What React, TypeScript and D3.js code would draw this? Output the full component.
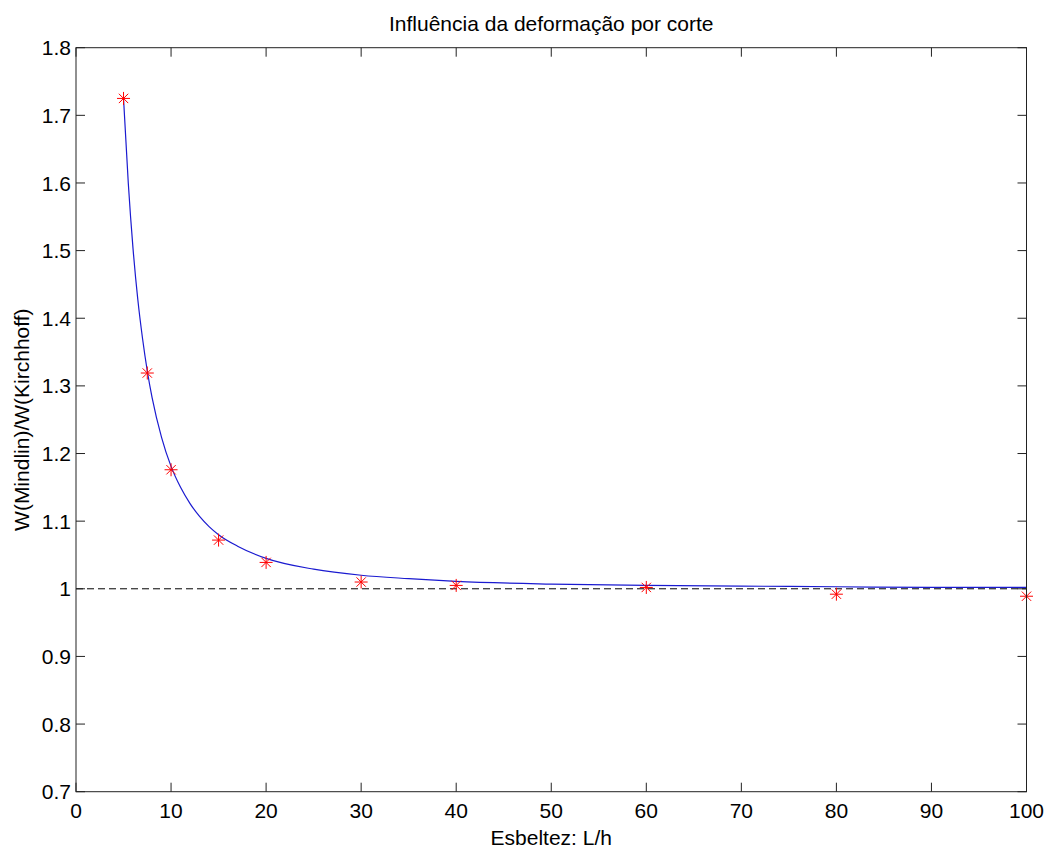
import React from "react";
import * as d3 from "d3";

const W = 1047;
const H = 848;

const xTicks = [0, 10, 20, 30, 40, 50, 60, 70, 80, 90, 100];
const yTicks = [0.7, 0.8, 0.9, 1.0, 1.1, 1.2, 1.3, 1.4, 1.5, 1.6, 1.7, 1.8];

// Blue curve
const curveX = [5, 5.5, 6, 6.5, 7, 7.5, 8, 9, 10, 11, 12, 13, 14, 15, 17, 20, 25, 30, 35, 40, 50, 60, 70, 80, 90, 100];
const curveY = [1.725, 1.6, 1.503, 1.428, 1.37, 1.322, 1.283, 1.224, 1.181, 1.15, 1.126, 1.107, 1.092, 1.08, 1.063, 1.045, 1.029, 1.02, 1.015, 1.011, 1.007, 1.005, 1.004, 1.003, 1.002, 1.002];

// Red asterisk points
const pointX = [5, 7.5, 10, 15, 20, 30, 40, 60, 80, 100];
const pointY = [1.725, 1.319, 1.176, 1.072, 1.039, 1.01, 1.005, 1.002, 0.992, 0.989];

const refY = 1.0;

const title = "Influência da deformação por corte";
const xLabel = "Esbeltez: L/h";
const yLabel = "W(Mindlin)/W(Kirchhoff)";

const left = 76;
const right = 1026.5;
const top = 47.7;
const bottom = 791.7;

export default function App() {
  const x = d3.scaleLinear().domain([0, 100]).range([left, right]);
  const y = d3.scaleLinear().domain([0.7, 1.8]).range([bottom, top]);
  const line = d3
    .line<number>()
    .x((_, i) => x(curveX[i]))
    .y((d) => y(d))
    .curve(d3.curveMonotoneX);
  const font = "'Liberation Sans', Arial, sans-serif";
  const fs = 21;
  const tickLen = 9;
  const fmt = (v: number) => String(+v.toFixed(1));
  const r = 6.5;
  const rd = r * 0.72;

  return (
    <svg
      width={W}
      height={H}
      style={{ position: "absolute", left: 0, top: 0, background: "#fff" }}
      fontFamily={font}
    >
      <rect x={0} y={0} width={W} height={H} fill="#fff" />
      {/* ref dashed line */}
      <line
        x1={x(0)}
        x2={x(100)}
        y1={y(refY)}
        y2={y(refY)}
        stroke="#000"
        strokeWidth={1}
        strokeDasharray="7,4"
      />
      {/* curve */}
      <path d={line(curveY) || ""} fill="none" stroke="#1a1ad0" strokeWidth={1.2} />
      {/* points */}
      {pointX.map((px, i) => {
        const cx = x(px);
        const cy = y(pointY[i]);
        return (
          <g key={i} stroke="#ff0000" strokeWidth={1}>
            <line x1={cx - r} x2={cx + r} y1={cy} y2={cy} />
            <line x1={cx} x2={cx} y1={cy - r} y2={cy + r} />
            <line x1={cx - rd} x2={cx + rd} y1={cy - rd} y2={cy + rd} />
            <line x1={cx - rd} x2={cx + rd} y1={cy + rd} y2={cy - rd} />
          </g>
        );
      })}
      {/* box */}
      <rect
        x={left}
        y={top}
        width={right - left}
        height={bottom - top}
        fill="none"
        stroke="#222"
        strokeWidth={1}
      />
      {/* x ticks */}
      {xTicks.map((t) => (
        <g key={"x" + t}>
          <line x1={x(t)} x2={x(t)} y1={bottom} y2={bottom - tickLen} stroke="#222" />
          <line x1={x(t)} x2={x(t)} y1={top} y2={top + tickLen} stroke="#222" />
          <text x={x(t)} y={818} textAnchor="middle" fontSize={fs} fill="#000">
            {t}
          </text>
        </g>
      ))}
      {/* y ticks */}
      {yTicks.map((t) => (
        <g key={"y" + t}>
          <line x1={left} x2={left + tickLen} y1={y(t)} y2={y(t)} stroke="#222" />
          <line x1={right} x2={right - tickLen} y1={y(t)} y2={y(t)} stroke="#222" />
          <text x={71} y={y(t)} dy="0.36em" textAnchor="end" fontSize={fs} fill="#000">
            {fmt(t)}
          </text>
        </g>
      ))}
      <text x={(left + right) / 2} y={31} textAnchor="middle" fontSize={fs} fill="#000">
        {title}
      </text>
      <text x={(left + right) / 2} y={845} textAnchor="middle" fontSize={fs} fill="#000">
        {xLabel}
      </text>
      <text
        transform={`translate(28.5,${(top + bottom) / 2}) rotate(-90)`}
        textAnchor="middle"
        fontSize={fs}
        fill="#000"
      >
        {yLabel}
      </text>
    </svg>
  );
}
